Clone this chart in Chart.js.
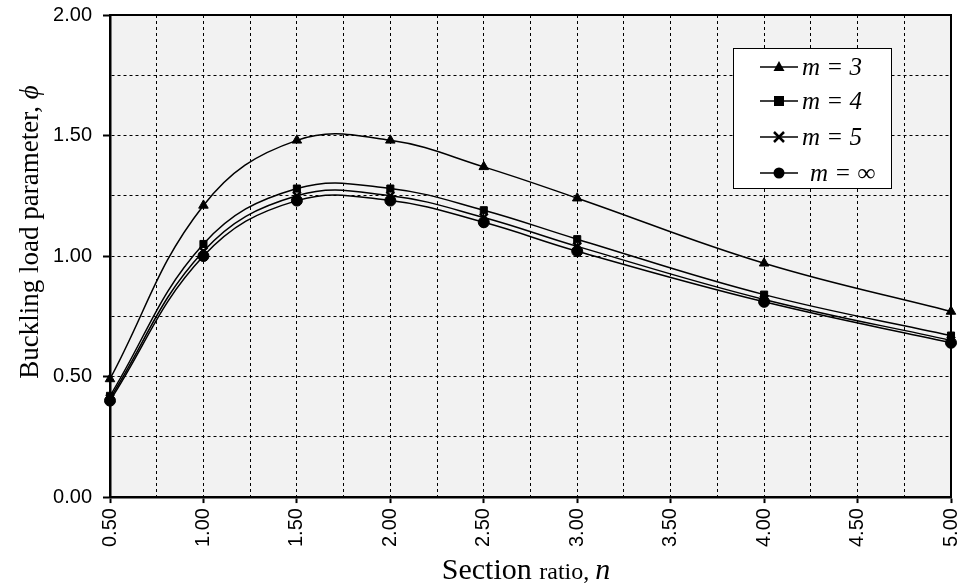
<!DOCTYPE html>
<html>
<head>
<meta charset="utf-8">
<script src="https://cdn.jsdelivr.net/npm/chart.js@4"></script>
<style>
  body { margin: 0; background: #fff; }
  #wrap { width: 961px; height: 588px; }
</style>
</head>
<body>
<div id="wrap"><canvas id="bucklingChart" width="961" height="588"></canvas></div>
<script>
// Section ratio n and buckling load parameter for each m
const sectionRatio = [0.5, 1.0, 1.5, 2.0, 2.5, 3.0, 4.0, 5.0];
const phiM3 = [0.49, 1.21, 1.48, 1.48, 1.37, 1.24, 0.97, 0.77];
const phiM4 = [0.42, 1.05, 1.28, 1.28, 1.19, 1.07, 0.84, 0.67];
const phiM5 = [0.41, 1.02, 1.25, 1.25, 1.16, 1.04, 0.82, 0.65];
const phiMInf = [0.40, 1.00, 1.23, 1.23, 1.14, 1.02, 0.81, 0.64];
const seriesNames = ["m = 3", "m = 4", "m = 5", "m = \u221e"];
const markers = ["triangle", "rect", "crossRot", "circle"];

const toPoints = (ys) => sectionRatio.map((x, i) => ({ x: x, y: ys[i] }));
const isMajor = (v) => Math.abs(v * 2 - Math.round(v * 2)) < 1e-6;

function makeSet(label, ys, style) {
  return {
    label: label,
    data: toPoints(ys),
    borderColor: "#000",
    backgroundColor: "#000",
    borderWidth: 1.5,
    pointStyle: style,
    pointRadius: style === "rect" ? 5 : 5.5,
    pointBorderWidth: style === "crossRot" ? 2.5 : 1,
    tension: 0.4,
    clip: false,
  };
}

// plot background + frame on top/right
const plotFrame = {
  id: "plotFrame",
  beforeDraw(chart) {
    const { ctx, chartArea: a } = chart;
    ctx.save();
    ctx.fillStyle = "#f2f2f2";
    ctx.fillRect(a.left, a.top, a.right - a.left, a.bottom - a.top);
    ctx.restore();
  },
  afterDraw(chart) {
    const { ctx, chartArea: a } = chart;
    ctx.save();
    ctx.strokeStyle = "#000";
    ctx.lineWidth = 2;
    ctx.beginPath();
    ctx.moveTo(a.left, a.top);
    ctx.lineTo(a.right, a.top);
    ctx.lineTo(a.right, a.bottom);
    ctx.stroke();
    ctx.restore();
  },
};

// axis titles with mixed fonts
const axisTitles = {
  id: "axisTitles",
  afterDraw(chart) {
    const { ctx } = chart;
    ctx.save();
    ctx.fillStyle = "#000";
    ctx.textBaseline = "alphabetic";
    // x title
    const parts = [
      ["Section ", "30px 'Liberation Serif'"],
      ["ratio, ", "24px 'Liberation Serif'"],
      ["n", "italic 30px 'Liberation Serif'"],
    ];
    let total = 0;
    parts.forEach((p) => { ctx.font = p[1]; total += ctx.measureText(p[0]).width; });
    let x = 526 - total / 2;
    parts.forEach((p) => {
      ctx.font = p[1];
      ctx.fillText(p[0], x, 579);
      x += ctx.measureText(p[0]).width;
    });
    // y title
    const yparts = [
      ["Buckling load parameter, ", "27px 'Liberation Serif'"],
      ["\u03d5", "italic 27px 'Liberation Serif'"],
    ];
    total = 0;
    yparts.forEach((p) => { ctx.font = p[1]; total += ctx.measureText(p[0]).width; });
    ctx.translate(38, 232);
    ctx.rotate(-Math.PI / 2);
    let yx = -total / 2;
    yparts.forEach((p) => {
      ctx.font = p[1];
      ctx.fillText(p[0], yx, 0);
      yx += ctx.measureText(p[0]).width;
    });
    ctx.restore();
  },
};

function drawMarker(ctx, style, x, y) {
  ctx.beginPath();
  if (style === "triangle") {
    ctx.moveTo(x, y - 6);
    ctx.lineTo(x + 5.5, y + 4);
    ctx.lineTo(x - 5.5, y + 4);
    ctx.closePath();
    ctx.fill();
  } else if (style === "rect") {
    ctx.rect(x - 5, y - 5, 10, 10);
    ctx.fill();
  } else if (style === "crossRot") {
    ctx.lineWidth = 2.5;
    ctx.moveTo(x - 5, y - 5); ctx.lineTo(x + 5, y + 5);
    ctx.moveTo(x + 5, y - 5); ctx.lineTo(x - 5, y + 5);
    ctx.stroke();
  } else {
    ctx.arc(x, y, 5.5, 0, Math.PI * 2);
    ctx.fill();
  }
}

// boxed legend inside the plot
const boxLegend = {
  id: "boxLegend",
  afterDraw(chart) {
    const { ctx } = chart;
    const bx = 733, by = 48, bw = 158, bh = 140;
    ctx.save();
    ctx.fillStyle = "#fff";
    ctx.fillRect(bx, by, bw, bh);
    ctx.strokeStyle = "#000";
    ctx.lineWidth = 1;
    ctx.strokeRect(bx + 0.5, by + 0.5, bw, bh);
    const rows = [67, 101, 137, 173];
    seriesNames.forEach((name, i) => {
      const y = rows[i];
      ctx.strokeStyle = "#000";
      ctx.fillStyle = "#000";
      ctx.lineWidth = 1.5;
      ctx.beginPath();
      ctx.moveTo(760, y);
      ctx.lineTo(798, y);
      ctx.stroke();
      drawMarker(ctx, markers[i], 779, y);
      ctx.font = "italic 25px 'Liberation Serif'";
      ctx.textBaseline = "middle";
      ctx.fillText(name, i === 3 ? 810 : 802, y + 1);
    });
    ctx.restore();
  },
};

const tickFont = { family: "'Liberation Sans', Arial", size: 20 };

new Chart(document.getElementById("bucklingChart").getContext("2d"), {
  type: "line",
  data: {
    datasets: [
      makeSet(seriesNames[0], phiM3, markers[0]),
      makeSet(seriesNames[1], phiM4, markers[1]),
      makeSet(seriesNames[2], phiM5, markers[2]),
      makeSet(seriesNames[3], phiMInf, markers[3]),
    ],
  },
  options: {
    responsive: false,
    animation: false,
    layout: { padding: { left: 50, right: 10, top: 15, bottom: 36 } },
    plugins: {
      legend: { display: false },
      tooltip: { enabled: false },
    },
    scales: {
      x: {
        type: "linear",
        min: 0.5,
        max: 5,
        afterFit: (scale) => { scale.paddingRight = 0; scale.paddingLeft = 0; },
        border: { color: "#000", width: 2.5, dash: [3, 3] },
        grid: {
          color: "#000",
          lineWidth: 1,
          tickLength: 6,
          tickWidth: 2,
          tickBorderDash: [],
          tickColor: (c) => (isMajor(c.tick.value) ? "#000" : "rgba(0,0,0,0)"),
        },
        ticks: {
          stepSize: 0.25,
          autoSkip: false,
          minRotation: 90,
          maxRotation: 90,
          color: "#000",
          padding: 5,
          font: tickFont,
          callback: (v) => (isMajor(v) ? Number(v).toFixed(2) : ""),
        },
      },
      y: {
        min: 0,
        max: 2,
        afterFit: (scale) => { scale.width = 60; scale.paddingTop = 0; scale.paddingBottom = 0; },
        border: { color: "#000", width: 2.5, dash: [3, 3] },
        grid: {
          color: "#000",
          lineWidth: 1,
          tickLength: 7,
          tickWidth: 2,
          tickBorderDash: [],
          tickColor: (c) => (isMajor(c.tick.value) ? "#000" : "rgba(0,0,0,0)"),
        },
        ticks: {
          stepSize: 0.25,
          autoSkip: false,
          color: "#000",
          padding: 11,
          font: tickFont,
          callback: (v) => (isMajor(v) ? Number(v).toFixed(2) : ""),
        },
      },
    },
  },
  plugins: [plotFrame, axisTitles, boxLegend],
});
</script>
</body>
</html>
